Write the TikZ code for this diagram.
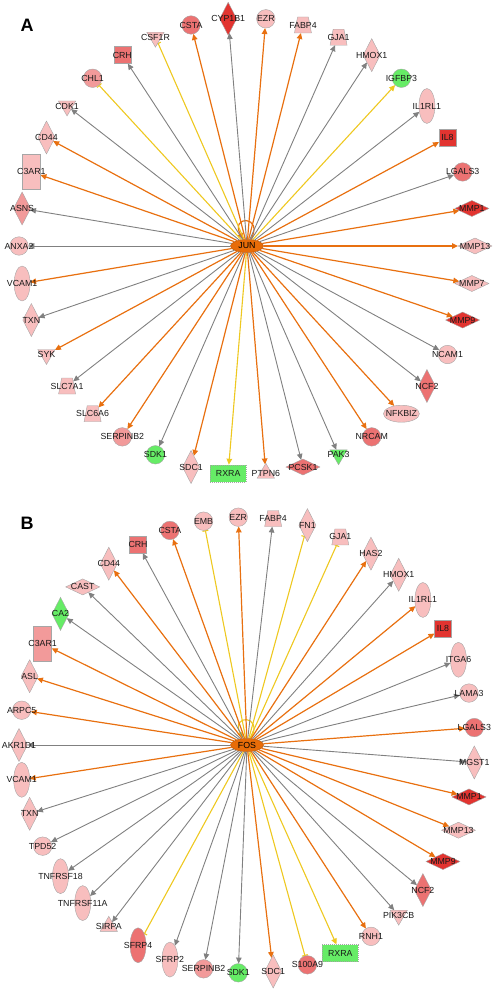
\documentclass[tikz,border=0pt]{standalone}
\usepackage{fontspec}
\setmainfont{Liberation Sans}
\usepackage{tikz}
\usetikzlibrary{calc}
\usetikzlibrary{shapes}
\usetikzlibrary{arrows.meta}
\usetikzlibrary{backgrounds}
\pgfdeclarelayer{foreground}
\pgfdeclarelayer{background}
\pgfsetlayers{background,main,foreground}

\definecolor{molpink}{RGB}{248,190,190}
\definecolor{molrose}{RGB}{242,154,154}
\definecolor{molsalmon}{RGB}{236,114,114}
\definecolor{molred}{RGB}{226,52,48}
\definecolor{molgreen}{RGB}{102,236,102}
\definecolor{edgeorange}{RGB}{232,112,16}
\definecolor{edgegray}{RGB}{128,128,128}
\definecolor{edgeyellow}{RGB}{238,200,32}
\definecolor{hubfill}{RGB}{232,108,8}

\tikzset{
  genelabel/.style={font=\fontsize{8.8}{9}\selectfont, text=black!90, inner sep=0pt},
  mol/.style={draw=black!35, line width=0.4pt, outer sep=0pt,
    label={[genelabel]center:#1}},
  hub/.style={ellipse, fill=hubfill, draw=edgeorange!80!black, line width=0.5pt,
    minimum width=33pt, minimum height=13pt, inner sep=0pt,
    font=\fontsize{8.8}{9}\selectfont},
  panel/.style={font=\fontsize{18}{18}\selectfont\bfseries},
  circ/.style={circle, inner sep=0pt, minimum size=18.5pt},
  tdia/.style={diamond, inner sep=0pt, minimum width=17pt, minimum height=33pt},
  wdia/.style={diamond, inner sep=0pt, minimum width=34pt, minimum height=16pt},
  tell/.style={ellipse, inner sep=0pt, minimum width=16pt, minimum height=35pt},
  well/.style={ellipse, inner sep=0pt, minimum width=36pt, minimum height=17pt},
  sq/.style={rectangle, inner sep=0pt, minimum width=17pt, minimum height=17pt},
  trect/.style={rectangle, inner sep=0pt, minimum width=18pt, minimum height=35pt},
  wrect/.style={rectangle, inner sep=0pt, minimum width=36pt, minimum height=17pt, dash pattern=on 1pt off 1pt},
  trap/.style={trapezium, trapezium left angle=74, trapezium right angle=74,
    trapezium stretches=true, inner sep=2pt, minimum width=17pt, minimum height=16pt},
  dtri/.style={regular polygon, regular polygon sides=3, shape border rotate=180, inner sep=0pt, minimum size=20pt},
  utri/.style={regular polygon, regular polygon sides=3, inner sep=0pt, minimum size=20pt},
  oarr/.style={draw=edgeorange, line width=1.2pt, -{Triangle[length=6pt,width=5.5pt]}},
  garr/.style={draw=edgegray, line width=0.9pt, -{Triangle[length=6pt,width=5.5pt]}},
  yarr/.style={draw=edgeyellow, line width=1.1pt, -{Triangle[length=6pt,width=5.5pt]}},
  ybar/.style={draw=edgeyellow, line width=1.1pt, -{Bar[width=6pt]}}
}

\begin{document}
\begin{tikzpicture}[x=1pt, y=1pt]
  \useasboundingbox (0,0) rectangle (494,-992);

  \node[panel] (labA) at (27,-25) {A};
  \node[panel] (labB) at (27,-523) {B};

  \node[hub] (JUN) at (247,-246) {JUN};
  \node[hub] (FOS) at (247,-745) {FOS};

  \begin{scope}[shift={(247,-246)}]
    \node[circ, fill=molpink, mol=ANXA2] (a-ANXA2) at (180:228) {};
    \node[tdia, fill=molrose, mol=ASNS] (a-ASNS) at (170.53:228) {};
    \node[trect, fill=molpink, mol=C3AR1] (a-C3AR1) at (161.05:228) {};
    \node[tdia, fill=molpink, mol=CD44] (a-CD44) at (151.58:228) {};
    \node[dtri, fill=molpink, mol=CDK1] (a-CDK1) at (142.11:228) {};
    \node[circ, fill=molrose, mol=CHL1] (a-CHL1) at (132.63:228) {};
    \node[sq, fill=molsalmon, mol=CRH] (a-CRH) at (123.16:228) {};
    \node[dtri, fill=molpink, mol=CSF1R] (a-CSF1R) at (113.68:228) {};
    \node[circ, fill=molsalmon, mol=CSTA] (a-CSTA) at (104.21:228) {};
    \node[tdia, fill=molred, mol=CYP1B1] (a-CYP1B1) at (94.74:228) {};
    \node[circ, fill=molpink, mol=EZR] (a-EZR) at (85.26:228) {};
    \node[trap, fill=molpink, mol=FABP4] (a-FABP4) at (75.79:228) {};
    \node[trap, fill=molpink, mol=GJA1] (a-GJA1) at (66.32:228) {};
    \node[tdia, fill=molpink, mol=HMOX1] (a-HMOX1) at (56.84:228) {};
    \node[circ, fill=molgreen, mol=IGFBP3] (a-IGFBP3) at (47.37:228) {};
    \node[tell, fill=molpink, mol=IL1RL1] (a-IL1RL1) at (37.89:228) {};
    \node[sq, fill=molred, mol=IL8] (a-IL8) at (28.42:228) {};
    \node[circ, fill=molsalmon, mol=LGALS3] (a-LGALS3) at (18.95:228) {};
    \node[wdia, fill=molred, mol=MMP1] (a-MMP1) at (9.47:228) {};
    \node[wdia, fill=molpink, mol=MMP13] (a-MMP13) at (0:228) {};
    \node[wdia, fill=molpink, mol=MMP7] (a-MMP7) at (-9.47:228) {};
    \node[wdia, fill=molred, mol=MMP9] (a-MMP9) at (-18.95:228) {};
    \node[circ, fill=molpink, mol=NCAM1] (a-NCAM1) at (-28.42:228) {};
    \node[tdia, fill=molsalmon, mol=NCF2] (a-NCF2) at (-37.89:228) {};
    \node[well, fill=molpink, mol=NFKBIZ] (a-NFKBIZ) at (-47.37:228) {};
    \node[circ, fill=molsalmon, mol=NRCAM] (a-NRCAM) at (-56.84:228) {};
    \node[dtri, fill=molgreen, mol=PAK3] (a-PAK3) at (-66.32:228) {};
    \node[wdia, fill=molsalmon, mol=PCSK1] (a-PCSK1) at (-75.79:228) {};
    \node[utri, fill=molpink, mol=PTPN6] (a-PTPN6) at (-85.26:228) {};
    \node[wrect, fill=molgreen, mol=RXRA] (a-RXRA) at (-94.74:228) {};
    \node[tdia, fill=molpink, mol=SDC1] (a-SDC1) at (-104.21:228) {};
    \node[circ, fill=molgreen, mol=SDK1] (a-SDK1) at (-113.68:228) {};
    \node[circ, fill=molrose, mol=SERPINB2] (a-SERPINB2) at (-123.16:228) {};
    \node[trap, fill=molpink, mol=SLC6A6] (a-SLC6A6) at (-132.63:228) {};
    \node[trap, fill=molpink, mol=SLC7A1] (a-SLC7A1) at (-142.11:228) {};
    \node[dtri, fill=molpink, mol=SYK] (a-SYK) at (-151.58:228) {};
    \node[tdia, fill=molpink, mol=TXN] (a-TXN) at (-161.05:228) {};
    \node[tell, fill=molpink, mol=VCAM1] (a-VCAM1) at (-170.53:228) {};
  \end{scope}

  \begin{scope}[shift={(247,-745)}]
    \node[tdia, fill=molpink, mol=AKR1D1] (b-AKR1D1) at (180:228) {};
    \node[circ, fill=molpink, mol=ARPC5] (b-ARPC5) at (171.22:228) {};
    \node[tdia, fill=molpink, mol=ASL] (b-ASL) at (162.44:228) {};
    \node[trect, fill=molrose, mol=C3AR1] (b-C3AR1) at (153.66:228) {};
    \node[tdia, fill=molgreen, mol=CA2] (b-CA2) at (144.88:228) {};
    \node[wdia, fill=molpink, mol=CAST] (b-CAST) at (136.10:228) {};
    \node[tdia, fill=molpink, mol=CD44] (b-CD44) at (127.32:228) {};
    \node[sq, fill=molsalmon, mol=CRH] (b-CRH) at (118.54:228) {};
    \node[circ, fill=molsalmon, mol=CSTA] (b-CSTA) at (109.76:228) {};
    \node[circ, fill=molpink, mol=EMB] (b-EMB) at (100.98:228) {};
    \node[circ, fill=molpink, mol=EZR] (b-EZR) at (92.20:228) {};
    \node[trap, fill=molpink, mol=FABP4] (b-FABP4) at (83.41:228) {};
    \node[tdia, fill=molpink, mol=FN1] (b-FN1) at (74.63:228) {};
    \node[trap, fill=molpink, mol=GJA1] (b-GJA1) at (65.85:228) {};
    \node[tdia, fill=molpink, mol=HAS2] (b-HAS2) at (57.07:228) {};
    \node[tdia, fill=molpink, mol=HMOX1] (b-HMOX1) at (48.29:228) {};
    \node[tell, fill=molpink, mol=IL1RL1] (b-IL1RL1) at (39.51:228) {};
    \node[sq, fill=molred, mol=IL8] (b-IL8) at (30.73:228) {};
    \node[tell, fill=molpink, mol=ITGA6] (b-ITGA6) at (21.95:228) {};
    \node[circ, fill=molpink, mol=LAMA3] (b-LAMA3) at (13.17:228) {};
    \node[circ, fill=molsalmon, mol=LGALS3] (b-LGALS3) at (4.39:228) {};
    \node[tdia, fill=molpink, mol=MGST1] (b-MGST1) at (-4.39:228) {};
    \node[wdia, fill=molred, mol=MMP1] (b-MMP1) at (-13.17:228) {};
    \node[wdia, fill=molpink, mol=MMP13] (b-MMP13) at (-21.95:228) {};
    \node[wdia, fill=molred, mol=MMP9] (b-MMP9) at (-30.73:228) {};
    \node[tdia, fill=molsalmon, mol=NCF2] (b-NCF2) at (-39.51:228) {};
    \node[dtri, fill=molpink, mol=PIK3CB] (b-PIK3CB) at (-48.29:228) {};
    \node[circ, fill=molpink, mol=RNH1] (b-RNH1) at (-57.07:228) {};
    \node[wrect, fill=molgreen, mol=RXRA] (b-RXRA) at (-65.85:228) {};
    \node[circ, fill=molsalmon, mol=S100A9] (b-S100A9) at (-74.63:228) {};
    \node[tdia, fill=molpink, mol=SDC1] (b-SDC1) at (-83.41:228) {};
    \node[circ, fill=molgreen, mol=SDK1] (b-SDK1) at (-92.20:228) {};
    \node[circ, fill=molrose, mol=SERPINB2] (b-SERPINB2) at (-100.98:228) {};
    \node[tell, fill=molpink, mol=SFRP2] (b-SFRP2) at (-109.76:228) {};
    \node[tell, fill=molsalmon, mol=SFRP4] (b-SFRP4) at (-118.54:228) {};
    \node[utri, fill=molpink, mol=SIRPA] (b-SIRPA) at (-127.32:228) {};
    \node[tell, fill=molpink, mol=TNFRSF11A] (b-TNFRSF11A) at (-136.10:228) {};
    \node[tell, fill=molpink, mol=TNFRSF18] (b-TNFRSF18) at (-144.88:228) {};
    \node[circ, fill=molpink, mol=TPD52] (b-TPD52) at (-153.66:228) {};
    \node[tdia, fill=molpink, mol=TXN] (b-TXN) at (-162.44:228) {};
    \node[tell, fill=molpink, mol=VCAM1] (b-VCAM1) at (-171.22:228) {};
  \end{scope}

  \begin{pgfonlayer}{background}
    % JUN
    \draw[oarr] ([xshift=4pt]JUN.north) .. controls +(13,24) and +(-13,24) .. ([xshift=-4pt]JUN.north);
    \draw[garr] (JUN) -- (a-ANXA2);
    \draw[garr] (JUN) -- (a-ASNS);
    \draw[oarr] (JUN) -- (a-C3AR1);
    \draw[oarr] (JUN) -- (a-CD44);
    \draw[garr] (JUN) -- (a-CDK1);
    \draw[ybar] (JUN) -- (a-CHL1);
    \draw[garr] (JUN) -- (a-CRH);
    \draw[ybar] (JUN) -- (a-CSF1R);
    \draw[oarr] (JUN) -- (a-CSTA);
    \draw[garr] (JUN) -- (a-CYP1B1);
    \draw[oarr] (JUN) -- (a-EZR);
    \draw[oarr] (JUN) -- (a-FABP4);
    \draw[garr] (JUN) -- (a-GJA1);
    \draw[garr] (JUN) -- (a-HMOX1);
    \draw[yarr] (JUN) -- (a-IGFBP3);
    \draw[garr] (JUN) -- (a-IL1RL1);
    \draw[oarr] (JUN) -- (a-IL8);
    \draw[garr] (JUN) -- (a-LGALS3);
    \draw[oarr] (JUN) -- (a-MMP1);
    \draw[oarr] (JUN) -- (a-MMP13);
    \draw[oarr] (JUN) -- (a-MMP7);
    \draw[oarr] (JUN) -- (a-MMP9);
    \draw[garr] (JUN) -- (a-NCAM1);
    \draw[garr] (JUN) -- (a-NCF2);
    \draw[oarr] (JUN) -- (a-NFKBIZ);
    \draw[oarr] (JUN) -- (a-NRCAM);
    \draw[garr] (JUN) -- (a-PAK3);
    \draw[garr] (JUN) -- (a-PCSK1);
    \draw[oarr] (JUN) -- (a-PTPN6);
    \draw[yarr] (JUN) -- (a-RXRA);
    \draw[oarr] (JUN) -- (a-SDC1);
    \draw[garr] (JUN) -- (a-SDK1);
    \draw[oarr] (JUN) -- (a-SERPINB2);
    \draw[oarr] (JUN) -- (a-SLC6A6);
    \draw[garr] (JUN) -- (a-SLC7A1);
    \draw[oarr] (JUN) -- (a-SYK);
    \draw[garr] (JUN) -- (a-TXN);
    \draw[oarr] (JUN) -- (a-VCAM1);
    % FOS
    \draw[yarr] ([xshift=4pt]FOS.north) .. controls +(13,24) and +(-13,24) .. ([xshift=-4pt]FOS.north);
    \draw[garr] (FOS) -- (b-AKR1D1);
    \draw[oarr] (FOS) -- (b-ARPC5);
    \draw[oarr] (FOS) -- (b-ASL);
    \draw[oarr] (FOS) -- (b-C3AR1);
    \draw[garr] (FOS) -- (b-CA2);
    \draw[garr] (FOS) -- (b-CAST);
    \draw[oarr] (FOS) -- (b-CD44);
    \draw[garr] (FOS) -- (b-CRH);
    \draw[oarr] (FOS) -- (b-CSTA);
    \draw[ybar] (FOS) -- (b-EMB);
    \draw[oarr] (FOS) -- (b-EZR);
    \draw[garr] (FOS) -- (b-FABP4);
    \draw[ybar] (FOS) -- (b-FN1);
    \draw[ybar] (FOS) -- (b-GJA1);
    \draw[oarr] (FOS) -- (b-HAS2);
    \draw[garr] (FOS) -- (b-HMOX1);
    \draw[oarr] (FOS) -- (b-IL1RL1);
    \draw[oarr] (FOS) -- (b-IL8);
    \draw[garr] (FOS) -- (b-ITGA6);
    \draw[garr] (FOS) -- (b-LAMA3);
    \draw[oarr] (FOS) -- (b-LGALS3);
    \draw[garr] (FOS) -- (b-MGST1);
    \draw[oarr] (FOS) -- (b-MMP1);
    \draw[oarr] (FOS) -- (b-MMP13);
    \draw[oarr] (FOS) -- (b-MMP9);
    \draw[garr] (FOS) -- (b-NCF2);
    \draw[garr] (FOS) -- (b-PIK3CB);
    \draw[oarr] (FOS) -- (b-RNH1);
    \draw[yarr] (FOS) -- (b-RXRA);
    \draw[ybar] (FOS) -- (b-S100A9);
    \draw[oarr] (FOS) -- (b-SDC1);
    \draw[garr] (FOS) -- (b-SDK1);
    \draw[garr] (FOS) -- (b-SERPINB2);
    \draw[garr] (FOS) -- (b-SFRP2);
    \draw[ybar] (FOS) -- (b-SFRP4);
    \draw[garr] (FOS) -- (b-SIRPA);
    \draw[garr] (FOS) -- (b-TNFRSF11A);
    \draw[garr] (FOS) -- (b-TNFRSF18);
    \draw[garr] (FOS) -- (b-TPD52);
    \draw[garr] (FOS) -- (b-TXN);
    \draw[oarr] (FOS) -- (b-VCAM1);
  \end{pgfonlayer}
\end{tikzpicture}
\end{document}
